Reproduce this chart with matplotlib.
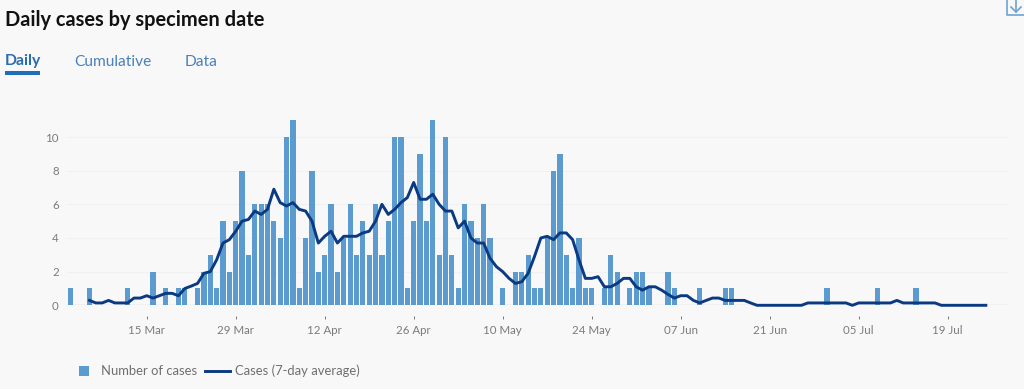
import matplotlib
matplotlib.use("Agg")
import matplotlib.pyplot as plt
import matplotlib.dates as mdates
from matplotlib.lines import Line2D
from matplotlib.patches import Rectangle
import numpy as np
import pandas as pd

plt.rcParams['font.family'] = ['Lato', 'DejaVu Sans']

start_date = '2020-03-03'
case_counts = [1,0,0,1,0,0,0,0,0,1,0,0,0,2,0,1,0,1,1,0,1,2,3,1,5,2,5,8,3,
               6,6,6,5,4,10,11,1,4,8,2,3,6,2,4,6,3,5,3,6,3,5,10,10,1,5,9,5,11,3,
               10,3,1,6,5,4,6,4,0,1,0,2,2,3,1,1,4,8,9,3,1,4,1,1,0,1,3,2,0,1,2,2,1,
               0,0,2,1,0,0,0,1,0,0,0,1,1,0,0,0,0,0,0,0,0,0,0,0,0,0,0,1,0,0,0,0,0,0,0,
               1,0,0,0,0,0,1,0,0,0,0,0,0,0,0,0,0,0]
avg_start_date = '2020-03-06'
avg_values = [.29,.14,.14,.29,.14,.14,.14,.43,.43,.57,.43,.57,.71,.71,.57,1.0,1.14,1.3,
              1.9,2.0,2.7,3.7,3.9,4.4,5.0,5.1,5.6,5.4,5.7,6.9,6.1,5.9,6.1,5.7,5.6,5.0,3.7,
              4.1,4.4,3.7,4.1,4.1,4.1,4.3,4.4,5.0,6.0,5.4,5.7,6.1,6.4,7.3,6.3,6.3,6.6,6.0,5.6,
              5.6,4.6,5.0,4.0,3.7,3.7,2.8,2.3,2.0,1.6,1.3,1.4,1.9,2.9,4.0,4.1,3.9,4.3,4.3,3.9,
              2.7,1.6,1.6,1.7,1.1,1.1,1.3,1.6,1.6,1.1,.9,1.1,1.1,.9,.65,.43,.57,.57,.29,.14,
              .29,.43,.43,.29,.29,.29,.29,.14,0,0,0,0,0,0,0,0,.14,.14,.14,.14,.14,.14,.14,0,
              .14,.14,.14,.14,.14,.14,.29,.14,.14,.14,.14,.14,.14,0,0,0,0,0,0,0,0]
tick_dates = ['2020-03-15','2020-03-29','2020-04-12','2020-04-26','2020-05-10','2020-05-24',
              '2020-06-07','2020-06-21','2020-07-05','2020-07-19']
tick_labels = ['15 Mar','29 Mar','12 Apr','26 Apr','10 May','24 May','07 Jun','21 Jun','05 Jul','19 Jul']
y_ticks = [0,2,4,6,8,10]

W, H = 1024, 389
BG = '#f8f8f8'
fig = plt.figure(figsize=(W/100, H/100), dpi=100, facecolor=BG)

# axes: baseline at y=305.3 px, value 10 at y=137 px
px_per_unit = (305.3-137)/10
top_px = 120
ax = fig.add_axes([67/W, 1-305.3/H, (1009-67)/W, (305.3-top_px)/H], facecolor=BG)
ax.set_ylim(0, (305.3-top_px)/px_per_unit)

dates = pd.date_range(start_date, periods=len(case_counts))
avg_dates = pd.date_range(avg_start_date, periods=len(avg_values))
x0 = mdates.date2num(pd.Timestamp('2020-03-15'))
px_day = 89.0/14
ax.set_xlim(x0-(146.7-67)/px_day, x0+(1009-146.7)/px_day)

ax.bar(dates, case_counts, width=0.82, color='#5b9bd0', zorder=2)
ax.plot(avg_dates, avg_values, color='#0b3a82', lw=2.1, zorder=3, solid_joinstyle='round',
        clip_on=False)

for s in ['top','left','right']:
    ax.spines[s].set_visible(False)
ax.spines['bottom'].set_position(('outward', 8))
ax.spines['bottom'].set_visible(False)
ax.axhline(0, color='#8a8a8a', lw=0.8, zorder=2.5)
for v in y_ticks[1:]:
    ax.axhline(v, color='#f1f1f1', lw=0.8, zorder=1)

ax.set_xticks(mdates.date2num(pd.to_datetime(tick_dates)))
ax.set_xticklabels(tick_labels)
ax.tick_params(axis='x', length=2.5, width=0.7, color='#777777', labelsize=8.3,
               labelcolor='#7b7b7b', pad=3.5)
ax.set_yticks(y_ticks)
ax.tick_params(axis='y', length=0, labelsize=8.3, labelcolor='#7b7b7b', pad=6)

def T(x, y, s, **kw):
    fig.text(x/W, 1-y/H, s, va='center', ha='left', **kw)

T(5, 20.5, 'Daily cases by specimen date', fontsize=14.4, fontweight='bold', color='#111111')
T(5, 61.5, 'Daily', fontsize=11.3, fontweight='bold', color='#2a6cb0')
T(74, 61.5, 'Cumulative', fontsize=11.2, color='#4a80bb')
T(185, 61.5, 'Data', fontsize=11.2, color='#4a80bb')
fig.add_artist(Rectangle((5/W, 1-74.5/H), 35/W, 3.5/H, transform=fig.transFigure, color='#1d70b8', lw=0))

# legend
fig.add_artist(Rectangle((79/W, 1-376/H), 10/W, 10/H, transform=fig.transFigure, color='#5b9bd0', lw=0))
T(101, 371, 'Number of cases', fontsize=9.4, color='#6f6f6f')
fig.add_artist(Line2D([205/W, 230/W], [1-371/H, 1-371/H], transform=fig.transFigure, color='#0b3a82', lw=2.1))
T(235, 371, 'Cases (7-day average)', fontsize=9.4, color='#6f6f6f')

# download icon, cropped by the top and right edges
icon = '#6fa3d3'
for xs, ys in [([1007,1007,1024],[0,15,15]), ([1016,1016],[0,12]), ([1011,1016,1021],[7,12,7])]:
    fig.add_artist(Line2D([a/W for a in xs], [1-b/H for b in ys], transform=fig.transFigure,
                          color=icon, lw=1.2))

fig.savefig('out.png', dpi=100, facecolor=BG)
